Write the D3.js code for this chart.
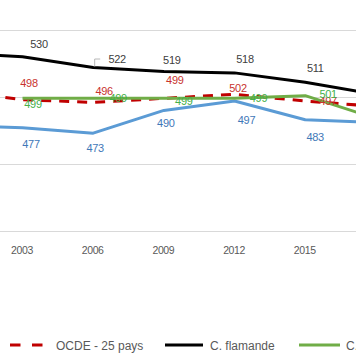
<!DOCTYPE html>
<html><head><meta charset="utf-8">
<script src="https://cdn.jsdelivr.net/npm/d3@7"></script>
<style>
html,body{margin:0;padding:0;background:#fff;overflow:hidden}
text{font-family:"Liberation Sans",Arial,sans-serif}
</style></head>
<body>
<svg id="c" width="356" height="364"></svg>
<script>
const years = [2000, 2003, 2006, 2009, 2012, 2015, 2018];
const tickYears = [2003, 2006, 2009, 2012, 2015];
const gridValues = [400, 450, 500, 550];
const oecd = [505, 498, 496, 499, 502, 497, 493];
const flamande = [533, 530, 522, 519, 518, 511, 502];
const germanophone = [null, 499, 499, 499, 499, 501, 484];
const francaise = [479, 477, 473, 490, 497, 483, 481];
const seriesNames = ["OCDE - 25 pays", "C. flamande", "C. germanophone", "C. française"];

// label offsets (layout only), for points 2003..2015
const offOecd = [[6.5,-16.7],[11,-11.4],[11,-18],[3.5,-6.3],[23,0]];
const offFla = [[16.5,-12.8],[24,-8.5],[8,-11.5],[10.5,-14],[10,-14]];
const offGer = [[10.5,6],[25,0],[20,3],[24,0],[23,-2]];
const offFra = [[8.5,16],[2,15],[2,12.5],[12,19],[10,17]];

const svg = d3.select("#c");
const x = d3.scaleLinear().domain([2003, 2015]).range([22.5, 305.2]);
const y = d3.scaleLinear().domain([400, 550]).range([231, 30]);

// gridlines
svg.append("g").selectAll("line").data(gridValues).join("line")
  .attr("x1", 0).attr("x2", 356)
  .attr("y1", d => Math.round(y(d)) + 0.5).attr("y2", d => Math.round(y(d)) + 0.5)
  .attr("stroke", "#d9d9d9").attr("stroke-width", 1);

// x axis labels
svg.append("g").selectAll("text").data(tickYears).join("text")
  .attr("x", d => x(d) - 0.5).attr("y", 254)
  .attr("text-anchor", "middle").attr("font-size", "10.5px")
  .attr("letter-spacing", "-0.4px")
  .attr("fill", "#595959").text(d => d);

const series = [
  {vals: oecd, color: "#c00000", dash: "10,8", label: "#c8332e", off: offOecd},
  {vals: flamande, color: "#000000", dash: null, label: "#404040", off: offFla},
  {vals: germanophone, color: "#70ad47", dash: null, label: "#45b04a", off: offGer},
  {vals: francaise, color: "#5b9bd5", dash: null, label: "#3f78b8", off: offFra}
];
const drawOrder = [3, 0, 2, 1];

const line = d3.line().defined(d => d[1] != null)
  .x(d => x(d[0])).y(d => y(d[1]));

drawOrder.forEach(i => {
  const s = series[i];
  const pts = years.map((yr, j) => [yr, s.vals[j]]);
  svg.append("path").datum(pts).attr("d", line)
    .attr("fill", "none").attr("stroke", s.color).attr("stroke-width", 3)
    .attr("stroke-linejoin", "round")
    .attr("stroke-dasharray", s.dash);
});

// leader line for 522
svg.append("path")
  .attr("d", `M${x(2006)+1.5},${y(522)-1} V${y(522)-8.5} H${x(2006)+7}`)
  .attr("fill", "none").attr("stroke", "#a6a6a6").attr("stroke-width", 0.8);

// data labels
series.forEach(s => {
  const pts = years.map((yr, j) => [yr, s.vals[j]]).filter(p => p[0] >= 2003 && p[0] <= 2015);
  svg.append("g").selectAll("text").data(pts).join("text")
    .attr("x", (d, k) => x(d[0]) + s.off[k][0])
    .attr("y", (d, k) => y(d[1]) + s.off[k][1] + 4)
    .attr("text-anchor", "middle").attr("font-size", "11px")
    .attr("letter-spacing", "-0.3px")
    .attr("fill", s.label).text(d => d[1]);
});

// legend
const lg = svg.append("g");
const legendItems = [
  {i: 0, x1: 10, x2: 43, tx: 56},
  {i: 1, x1: 165, x2: 203, tx: 210},
  {i: 2, x1: 299, x2: 340, tx: 346}
];
legendItems.forEach(it => {
  const s = series[it.i];
  lg.append("line").attr("x1", it.x1).attr("x2", it.x2).attr("y1", 345).attr("y2", 345)
    .attr("stroke", s.color).attr("stroke-width", 3)
    .attr("stroke-dasharray", it.i === 0 ? "10.5,11.5" : null);
  lg.append("text").attr("x", it.tx).attr("y", 349.5).attr("font-size", "12px")
    .attr("fill", "#595959").text(seriesNames[it.i]);
});
</script>
</body></html>
